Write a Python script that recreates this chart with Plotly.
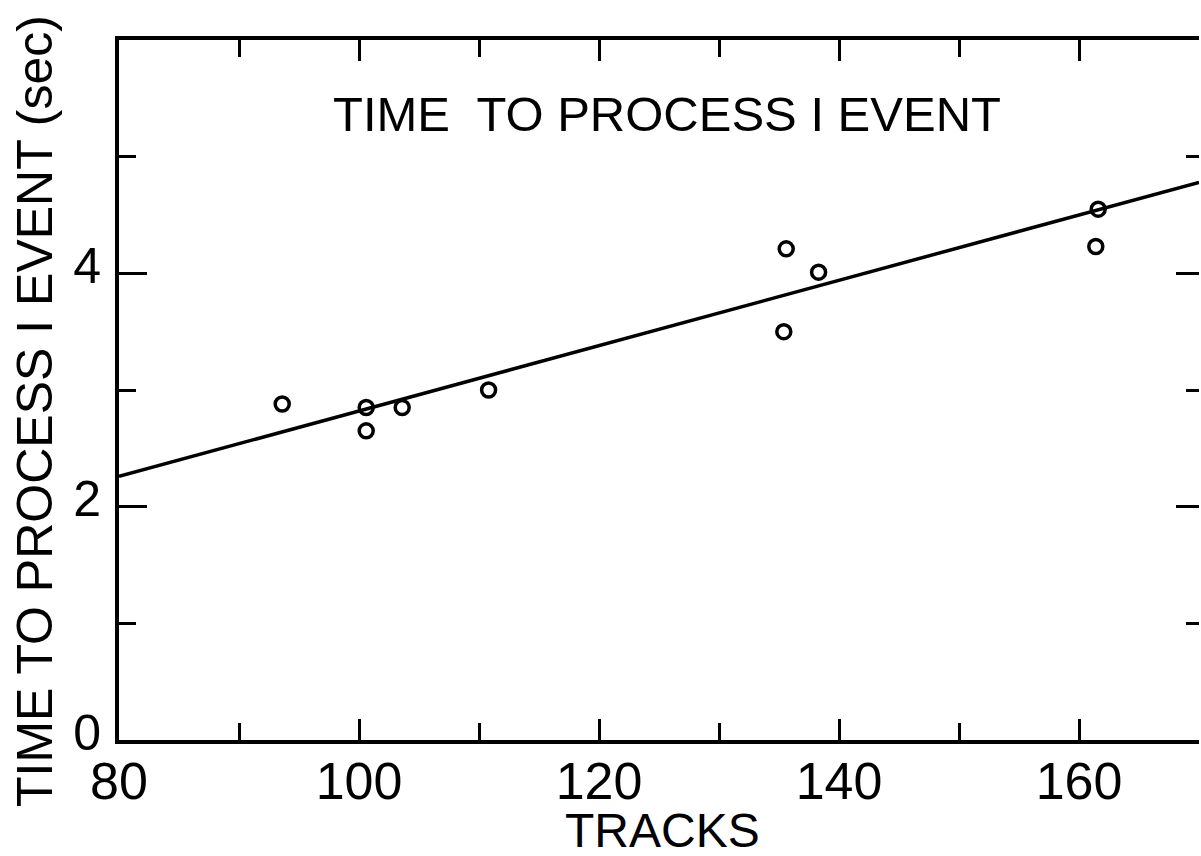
import plotly.graph_objects as go

# Data
tracks = [93.6, 100.6, 100.6, 103.6, 110.8, 135.6, 138.3, 135.4, 161.6, 161.4]
time_sec = [2.88, 2.85, 2.65, 2.85, 3.00, 4.21, 4.01, 3.50, 4.55, 4.23]

fit_x = [80, 170]
fit_y = [2.26, 4.78]

x_tick_vals = [80, 100, 120, 140, 160]
x_tick_text = ["80", "100", "120", "140", "160"]
y_tick_vals = [0, 2, 4]
y_tick_text = ["0", "2", "4"]

FONT = "Liberation Sans"

fig = go.Figure()
fig.add_trace(go.Scatter(
    x=fit_x, y=fit_y, mode="lines",
    line=dict(color="black", width=3.5),
    yaxis="y2", showlegend=False, hoverinfo="skip",
))
fig.add_trace(go.Scatter(
    x=tracks, y=time_sec, mode="markers",
    marker=dict(symbol="circle-open", size=14, color="black",
                line=dict(color="black", width=3.5)),
    showlegend=False,
))

fig.update_layout(
    width=1201, height=856,
    margin=dict(l=119, r=2, t=40, b=116),
    paper_bgcolor="white", plot_bgcolor="white",
    font=dict(family=FONT, color="black"),
    xaxis=dict(
        range=[80, 170], showgrid=False, zeroline=False,
        showline=True, linecolor="black", linewidth=4, mirror="ticks",
        ticks="inside", ticklen=21, tickwidth=3, tickcolor="black",
        tickvals=x_tick_vals, ticktext=x_tick_text,
        tickfont=dict(size=52, family=FONT),
        ticklabelstandoff=-7,
        minor=dict(dtick=10, tick0=80, ticks="inside", ticklen=17,
                   tickwidth=3, tickcolor="black", showgrid=False),
    ),
    yaxis=dict(
        range=[0, 6], showgrid=False, zeroline=False,
        showline=True, linecolor="black", linewidth=4,
        ticks="inside", ticklen=28, tickwidth=3, tickcolor="black",
        tickvals=y_tick_vals, ticktext=y_tick_text,
        tickfont=dict(size=50, family=FONT),
        ticklabelstandoff=4, ticklabelshift=-8,
        minor=dict(dtick=1, tick0=0, ticks="inside", ticklen=17,
                   tickwidth=3, tickcolor="black", showgrid=False),
    ),
    yaxis2=dict(
        range=[0, 6], overlaying="y", side="right", anchor="x",
        showgrid=False, zeroline=False, showline=False,
        ticks="inside", ticklen=23, tickwidth=3, tickcolor="black",
        tickvals=y_tick_vals, showticklabels=False,
        minor=dict(dtick=1, tick0=0, ticks="inside", ticklen=13,
                   tickwidth=3, tickcolor="black", showgrid=False),
    ),
    annotations=[
        dict(text="TIME  TO PROCESS I EVENT", x=125.7, y=5.37,
             xref="x", yref="y", showarrow=False,
             xanchor="center", yanchor="middle",
             font=dict(size=49, family=FONT, color="black")),
        dict(text="TRACKS", x=125.25, y=-0.1286,
             xref="x", yref="paper", showarrow=False,
             xanchor="center", yanchor="middle",
             font=dict(size=48, family=FONT, color="black")),
        dict(text="TIME TO PROCESS I EVENT (sec)", x=-0.0778, y=0.47,
             xref="paper", yref="paper", showarrow=False, textangle=-90,
             xanchor="center", yanchor="middle",
             font=dict(size=50, family=FONT, color="black")),
    ],
)

fig.write_html("out.html")
